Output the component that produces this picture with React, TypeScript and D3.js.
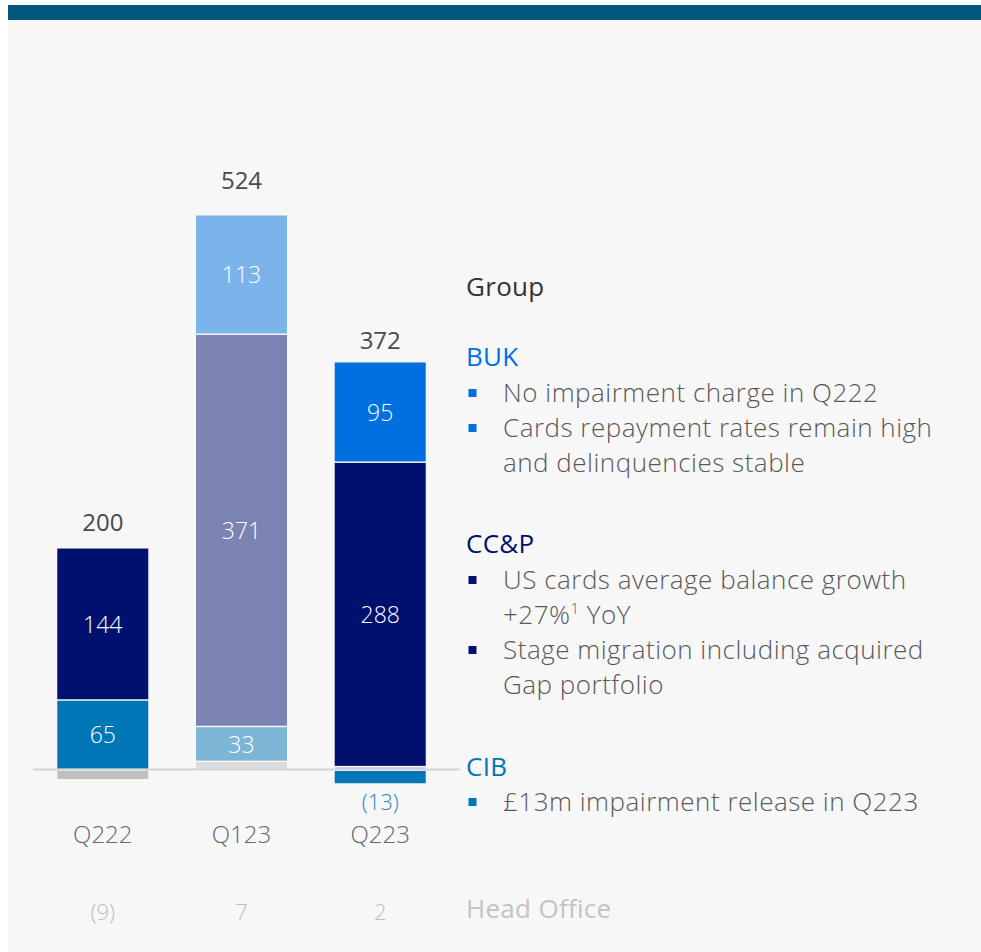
import React from "react";
import * as d3 from "d3";

const categories = ["Q222", "Q123", "Q223"];
const seriesKeys = ["Head Office", "CIB", "CC&P", "BUK"];
const headOffice = [-9, 7, 2];
const cib = [65, 33, -13];
const ccp = [144, 371, 288];
const buk = [0, 113, 95];
const totals = [200, 524, 372];
const headOfficeLabels = ["(9)", "7", "2"];

const W = 981;
const H = 952;
const FONT = "'Open Sans', Lato, sans-serif";

const seriesColor: Record<string, string> = {
  "Head Office": "#BFBFBF",
  CIB: "#0076B6",
  "CC&P": "#00106E",
  BUK: "#006FE0",
};
const fadedCategory = "Q123";

export default function App() {
  const rows = categories.map((c, i) => ({
    cat: c,
    "Head Office": headOffice[i],
    CIB: cib[i],
    "CC&P": ccp[i],
    BUK: buk[i],
  }));
  const stacked = d3
    .stack<any>()
    .keys(seriesKeys)
    .offset(d3.stackOffsetDiverging)(rows);

  const x = d3
    .scaleBand<string>()
    .domain(categories)
    .range([33, 450])
    .paddingInner(0.344)
    .paddingOuter(0.175);
  const y = d3.scaleLinear().domain([0, 524]).range([769.5, 215.5]);

  const bw = x.bandwidth();

  const bullet = (yy: number, color: string) => (
    <rect x={468.5} y={yy - 13} width={8} height={8} fill={color} />
  );
  const txt = { fontFamily: FONT, fontWeight: 300 } as const;
  const body = { fontFamily: FONT, fontWeight: 300, letterSpacing: "0.5px" } as const;

  return (
    <svg
      width={W}
      height={H}
      style={{ position: "absolute", left: 0, top: 0 }}
      viewBox={`0 0 ${W} ${H}`}
    >
      <rect x={0} y={0} width={W} height={H} fill="#ffffff" />
      <rect x={8} y={20} width={W - 8} height={H - 20} fill="#F7F7F7" />
      <rect x={8} y={5} width={W - 8} height={15} fill="#025878" />

      {/* bars */}
      {stacked.map((s) => (
        <g key={s.key}>
          {s.map((d, i) => {
            const cat = categories[i];
            const v = d[1] - d[0];
            if (v === 0) return null;
            const y0 = y(d[0]);
            const y1 = y(d[1]);
            const top = Math.min(y0, y1);
            const h = Math.abs(y1 - y0);
            const neg = Math.min(d[0], d[1]) < 0;
            const gapTop = d[0] === 0 ? 0.75 : 1.5;
            return (
              <rect
                key={cat}
                x={x(cat)}
                y={neg ? top + 1.5 : top}
                width={bw}
                height={Math.max(0.5, h - (neg ? 1.5 : gapTop))}
                fill={seriesColor[s.key]}
                fillOpacity={cat === fadedCategory ? 0.5 : 1}
              />
            );
          })}
        </g>
      ))}

      {/* baseline */}
      <line x1={33} x2={460} y1={y(0)} y2={y(0)} stroke="#D4D4D4" strokeWidth={2} />

      {/* segment labels */}
      {stacked.map((s) =>
        s.map((d, i) => {
          const v = d[1] - d[0];
          if (s.key === "Head Office" || v === 0) return null;
          const cat = categories[i];
          const cx = (x(cat) as number) + bw / 2;
          const lo = Math.min(d[0], d[1]);
          if (lo < 0) {
            return (
              <text
                key={s.key + cat}
                x={cx}
                y={y(lo) + 27}
                textAnchor="middle"
                fontSize={22}
                fill="#2A86C8"
                style={txt}
              >
                {`(${Math.abs(v)})`}
              </text>
            );
          }
          const cy = (y(d[0]) + y(d[1])) / 2;
          return (
            <text
              key={s.key + cat}
              x={cx}
              y={cy + 8}
              textAnchor="middle"
              fontSize={23}
              fill="#ffffff"
              style={txt}
            >
              {v}
            </text>
          );
        })
      )}

      {/* totals */}
      {categories.map((c, i) => (
        <text
          key={"t" + c}
          x={(x(c) as number) + bw / 2}
          y={y(totals[i]) - 27}
          textAnchor="middle"
          fontSize={24}
          fill="#4A4A4A"
          style={{ fontFamily: FONT, fontWeight: 400 }}
        >
          {totals[i]}
        </text>
      ))}

      {/* category labels */}
      {categories.map((c) => (
        <text
          key={"c" + c}
          x={(x(c) as number) + bw / 2}
          y={843}
          textAnchor="middle"
          fontSize={24}
          fill="#666666"
          style={txt}
        >
          {c}
        </text>
      ))}

      {/* head office row */}
      {categories.map((c, i) => (
        <text
          key={"h" + c}
          x={(x(c) as number) + bw / 2}
          y={920}
          textAnchor="middle"
          fontSize={22}
          fill="#BDBDBD"
          style={txt}
        >
          {headOfficeLabels[i]}
        </text>
      ))}

      {/* commentary */}
      <g style={body} fontSize={26}>
        <text x={466} y={296} fontSize={26} fill="#333333" style={{ fontWeight: 400, letterSpacing: "0.3px" }}>
          Group
        </text>

        <text x={466} y={366} fontSize={26} fill="#006FE0" style={{ fontWeight: 400, letterSpacing: "0.3px" }}>
          BUK
        </text>
        {bullet(402, "#006FE0")}
        <text x={503} y={402} fill="#595959">No impairment charge in Q222</text>
        {bullet(437, "#006FE0")}
        <text x={503} y={437} fill="#595959">Cards repayment rates remain high</text>
        <text x={503} y={472} fill="#595959">and delinquencies stable</text>

        <text x={466} y={553} fontSize={26} fill="#00106E" style={{ fontWeight: 400, letterSpacing: "0.3px" }}>
          CC&amp;P
        </text>
        {bullet(589, "#00106E")}
        <text x={503} y={589} fill="#595959">US cards average balance growth</text>
        <text x={503} y={624} fill="#595959">
          +27%
          <tspan fontSize={15} dy={-10}>1</tspan>
          <tspan dy={10}> YoY</tspan>
        </text>
        {bullet(659, "#00106E")}
        <text x={503} y={659} fill="#595959">Stage migration including acquired</text>
        <text x={503} y={694} fill="#595959">Gap portfolio</text>

        <text x={466} y={776} fontSize={26} fill="#0076B6" style={{ fontWeight: 400, letterSpacing: "0.3px" }}>
          CIB
        </text>
        {bullet(811, "#0076B6")}
        <text x={503} y={811} fill="#595959">£13m impairment release in Q223</text>

        <text x={466} y={918} fontSize={26} fill="#C4C4C4" style={{ fontWeight: 400, letterSpacing: "0.3px" }}>
          Head Office
        </text>
      </g>
    </svg>
  );
}
